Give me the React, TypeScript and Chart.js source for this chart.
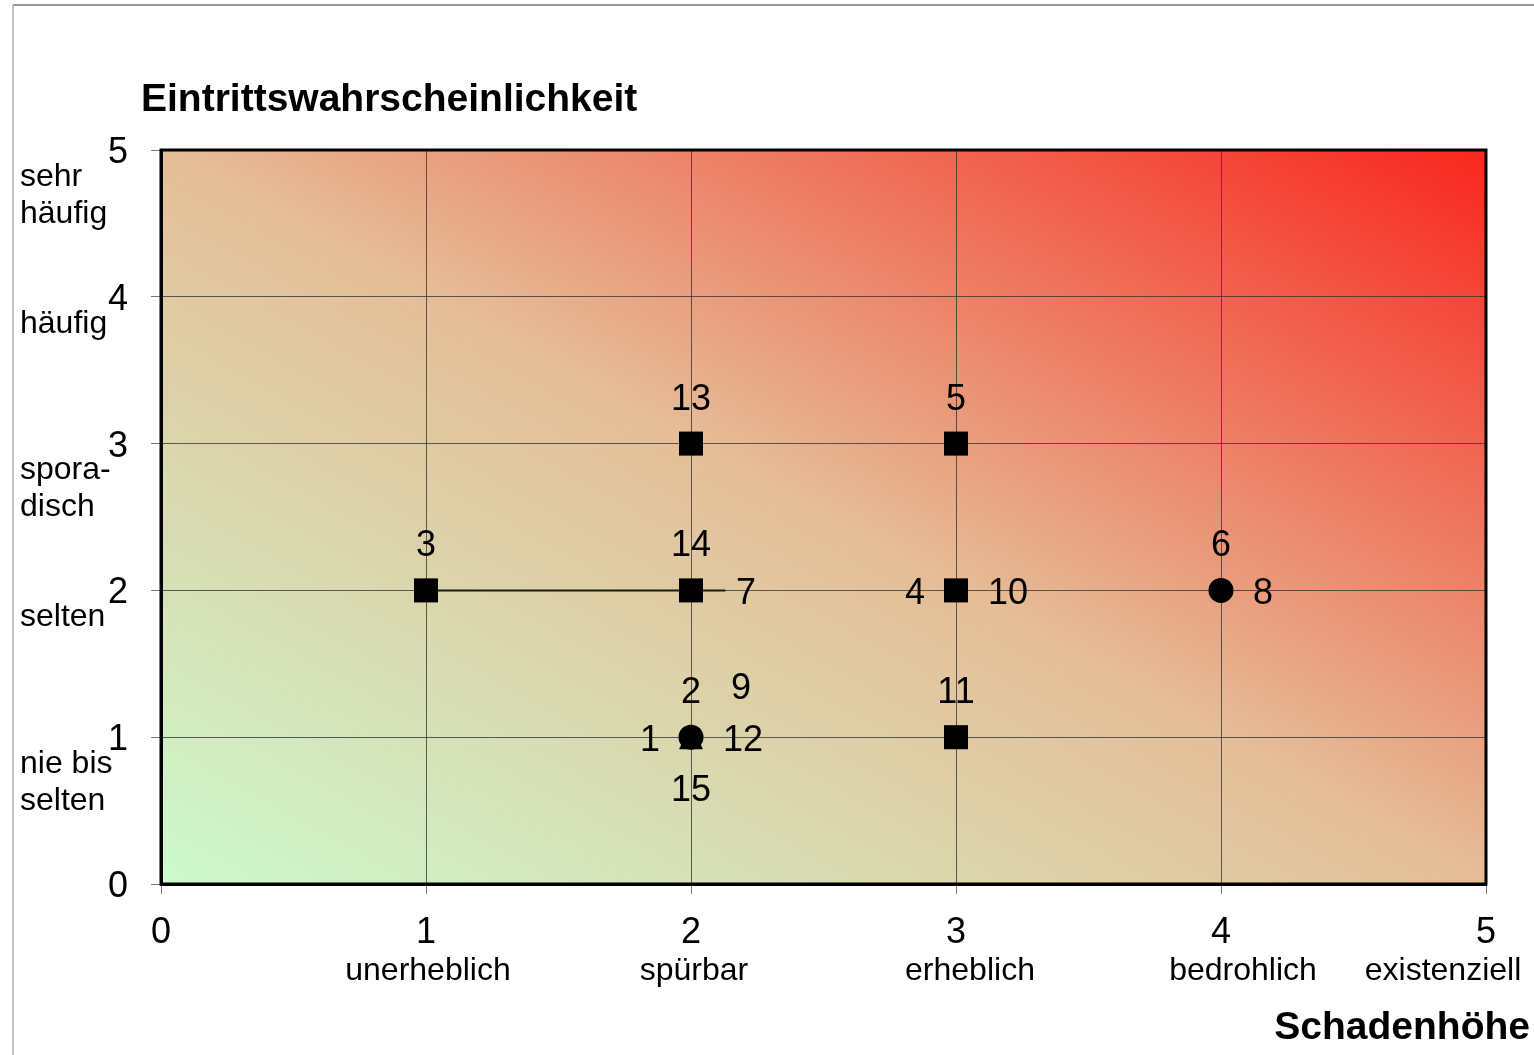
import React, { useEffect, useRef } from 'react';
import { Chart, registerables } from 'chart.js';

Chart.register(...registerables);

// ---------- data ----------
const xTickValues = [0, 1, 2, 3, 4, 5];
const yTickValues = [0, 1, 2, 3, 4, 5];
const xCategoryLabels = ['', 'unerheblich', 'spürbar', 'erheblich', 'bedrohlich', 'existenziell'];
const yCategoryLabels: string[][] = [[], ['nie bis', 'selten'], ['selten'], ['spora-', 'disch'], ['häufig'], ['sehr', 'häufig']];
const yAxisTitle = 'Eintrittswahrscheinlichkeit';
const xAxisTitle = 'Schadenhöhe';

const squarePoints = [
  { x: 2, y: 3 },
  { x: 3, y: 3 },
  { x: 1, y: 2 },
  { x: 2, y: 2 },
  { x: 3, y: 2 },
  { x: 3, y: 1 },
];
const circlePoints = [
  { x: 4, y: 2 },
  { x: 2, y: 1 },
];
const trianglePoints = [{ x: 2, y: 1 }];
const linePoints = [
  { x: 1, y: 2 },
  { x: 2.13, y: 2 },
];

const riskIds = ['13', '5', '3', '14', '7', '4', '10', '6', '8', '2', '9', '1', '12', '15', '11'];
const riskX = [2, 3, 1, 2, 2, 3, 3, 4, 4, 2, 2, 2, 2, 2, 3];
const riskY = [3, 3, 2, 2, 2, 2, 2, 2, 2, 1, 1, 1, 1, 1, 1];
const riskSide = ['above', 'above', 'above', 'above', 'farRight', 'left', 'right', 'above', 'right', 'above', 'aboveRight', 'left', 'right', 'below', 'above'];

// ---------- layout / style ----------
const W = 1534;
const H = 1055;
const FONT = "'Liberation Sans', Arial, Helvetica, sans-serif";
const xCatDx = [0, 2, 3, 14, 22, -43];
const sideOffsets: Record<string, [number, number, CanvasTextAlign]> = {
  above: [0, -44, 'center'],
  below: [0, 54, 'center'],
  left: [-31, 4, 'right'],
  right: [32, 4, 'left'],
  farRight: [45, 4, 'left'],
  aboveRight: [50, -48, 'center'],
};

function makeTriangle(): HTMLCanvasElement {
  const c = document.createElement('canvas');
  c.width = 26;
  c.height = 26;
  const g = c.getContext('2d')!;
  g.fillStyle = '#000';
  g.beginPath();
  g.moveTo(1, 25);
  g.lineTo(25, 25);
  g.lineTo(13, 1);
  g.closePath();
  g.fill();
  return c;
}

const decorPlugin = {
  id: 'decor',
  beforeDraw(chart: any) {
    const { ctx, chartArea: a } = chart;
    ctx.save();
    ctx.fillStyle = '#ffffff';
    ctx.fillRect(0, 0, W, H);
    // page frame
    ctx.strokeStyle = '#777';
    ctx.lineWidth = 1.5;
    ctx.beginPath();
    ctx.moveTo(13, 5);
    ctx.lineTo(W, 5);
    ctx.stroke();
    ctx.strokeStyle = '#b0b0b0';
    ctx.beginPath();
    ctx.moveTo(13, 5);
    ctx.lineTo(13, H);
    ctx.stroke();
    // gradient background
    const w = a.right - a.left;
    const h = a.bottom - a.top;
    const k = (2 * w * h) / (w * w + h * h);
    const grad = ctx.createLinearGradient(a.left, a.bottom, a.left + h * k, a.bottom - w * k);
    grad.addColorStop(0, 'rgb(204,250,204)');
    grad.addColorStop(0.5, 'rgb(229,190,152)');
    grad.addColorStop(1, 'rgb(249,38,30)');
    ctx.fillStyle = grad;
    ctx.fillRect(a.left, a.top, w, h);
    ctx.restore();
  },
  beforeDatasetsDraw(chart: any) {
    const { ctx, chartArea: a } = chart;
    ctx.save();
    ctx.strokeStyle = '#000';
    ctx.lineWidth = 3;
    ctx.strokeRect(a.left, a.top, a.right - a.left, a.bottom - a.top);
    ctx.restore();
  },
  afterDraw(chart: any) {
    const { ctx } = chart;
    const xs = chart.scales.x;
    const ys = chart.scales.y;
    ctx.save();
    ctx.fillStyle = '#000';
    ctx.textBaseline = 'middle';
    // tick numbers
    ctx.font = `36px ${FONT}`;
    ctx.textAlign = 'right';
    yTickValues.forEach((v) => ctx.fillText(String(v), 128, ys.getPixelForValue(v) + 3));
    ctx.textAlign = 'center';
    xTickValues.forEach((v) => ctx.fillText(String(v), xs.getPixelForValue(v), xs.top + 49));
    // point labels
    riskIds.forEach((id, i) => {
      const [dx, dy, align] = sideOffsets[riskSide[i]];
      ctx.textAlign = align;
      ctx.fillText(id, xs.getPixelForValue(riskX[i]) + dx, ys.getPixelForValue(riskY[i]) + dy);
    });
    // y category labels
    ctx.font = `32px ${FONT}`;
    ctx.textAlign = 'left';
    yCategoryLabels.forEach((lines, i) => {
      const py = ys.getPixelForValue(yTickValues[i]);
      lines.forEach((t, j) => ctx.fillText(t, 20, py + 27 + j * 37));
    });
    // x category labels
    ctx.textAlign = 'center';
    xCategoryLabels.forEach((t, i) => {
      if (!t) return;
      ctx.fillText(t, xs.getPixelForValue(xTickValues[i]) + xCatDx[i], xs.top + 87);
    });
    // axis titles
    ctx.font = `bold 39px ${FONT}`;
    ctx.textAlign = 'left';
    ctx.fillText(yAxisTitle, 141, ys.top - 50);
    ctx.textAlign = 'right';
    ctx.fillText(xAxisTitle, 1530, xs.top + 144);
    ctx.restore();
  },
};

export default function App() {
  const ref = useRef<HTMLCanvasElement | null>(null);
  useEffect(() => {
    document.body.style.margin = '0';
    const canvas = ref.current!;
    const tri = makeTriangle();
    const chart = new Chart(canvas, {
      type: 'scatter',
      data: {
        datasets: [
          {
            type: 'line',
            data: linePoints,
            borderColor: '#1a1a1a',
            borderWidth: 2,
            pointRadius: 0,
            fill: false,
            order: 4,
          } as any,
          {
            data: trianglePoints,
            pointStyle: tri as any,
            pointRadius: 12,
            backgroundColor: '#000',
            borderColor: '#000',
            order: 3,
          },
          {
            data: squarePoints,
            pointStyle: 'rect',
            pointRadius: 17,
            backgroundColor: '#000',
            borderColor: '#000',
            borderWidth: 0,
            order: 2,
          },
          {
            data: circlePoints,
            pointStyle: 'circle',
            pointRadius: 12.5,
            backgroundColor: '#000',
            borderColor: '#000',
            borderWidth: 0,
            order: 1,
          },
        ],
      },
      options: {
        responsive: false,
        animation: false,
        devicePixelRatio: 1,
        layout: { padding: { left: 0, top: 150, right: W - 1486, bottom: 0 } },
        plugins: { legend: { display: false }, tooltip: { enabled: false } },
        scales: {
          x: {
            type: 'linear',
            min: 0,
            max: 5,
            afterFit: (s: any) => {
              s.height = H - 884;
            },
            afterBuildTicks: (s: any) => {
              s.ticks = xTickValues.map((v) => ({ value: v }));
            },
            ticks: { display: false },
            grid: { color: 'rgba(55,55,55,0.8)', lineWidth: 1, tickLength: 10, tickColor: '#777' },
            border: { display: true, color: '#000', width: 3 },
          },
          y: {
            type: 'linear',
            min: 0,
            max: 5,
            afterFit: (s: any) => {
              s.width = 161;
            },
            afterBuildTicks: (s: any) => {
              s.ticks = yTickValues.map((v) => ({ value: v }));
            },
            ticks: { display: false },
            grid: { color: 'rgba(55,55,55,0.8)', lineWidth: 1, tickLength: 10, tickColor: '#777' },
            border: { display: true, color: '#000', width: 3 },
          },
        },
      },
      plugins: [decorPlugin],
    });
    return () => chart.destroy();
  }, []);
  return (
    <div style={{ position: 'fixed', left: 0, top: 0, width: W, height: H, background: '#fff' }}>
      <canvas ref={ref} width={W} height={H} style={{ width: W, height: H, display: 'block' }} />
    </div>
  );
}
